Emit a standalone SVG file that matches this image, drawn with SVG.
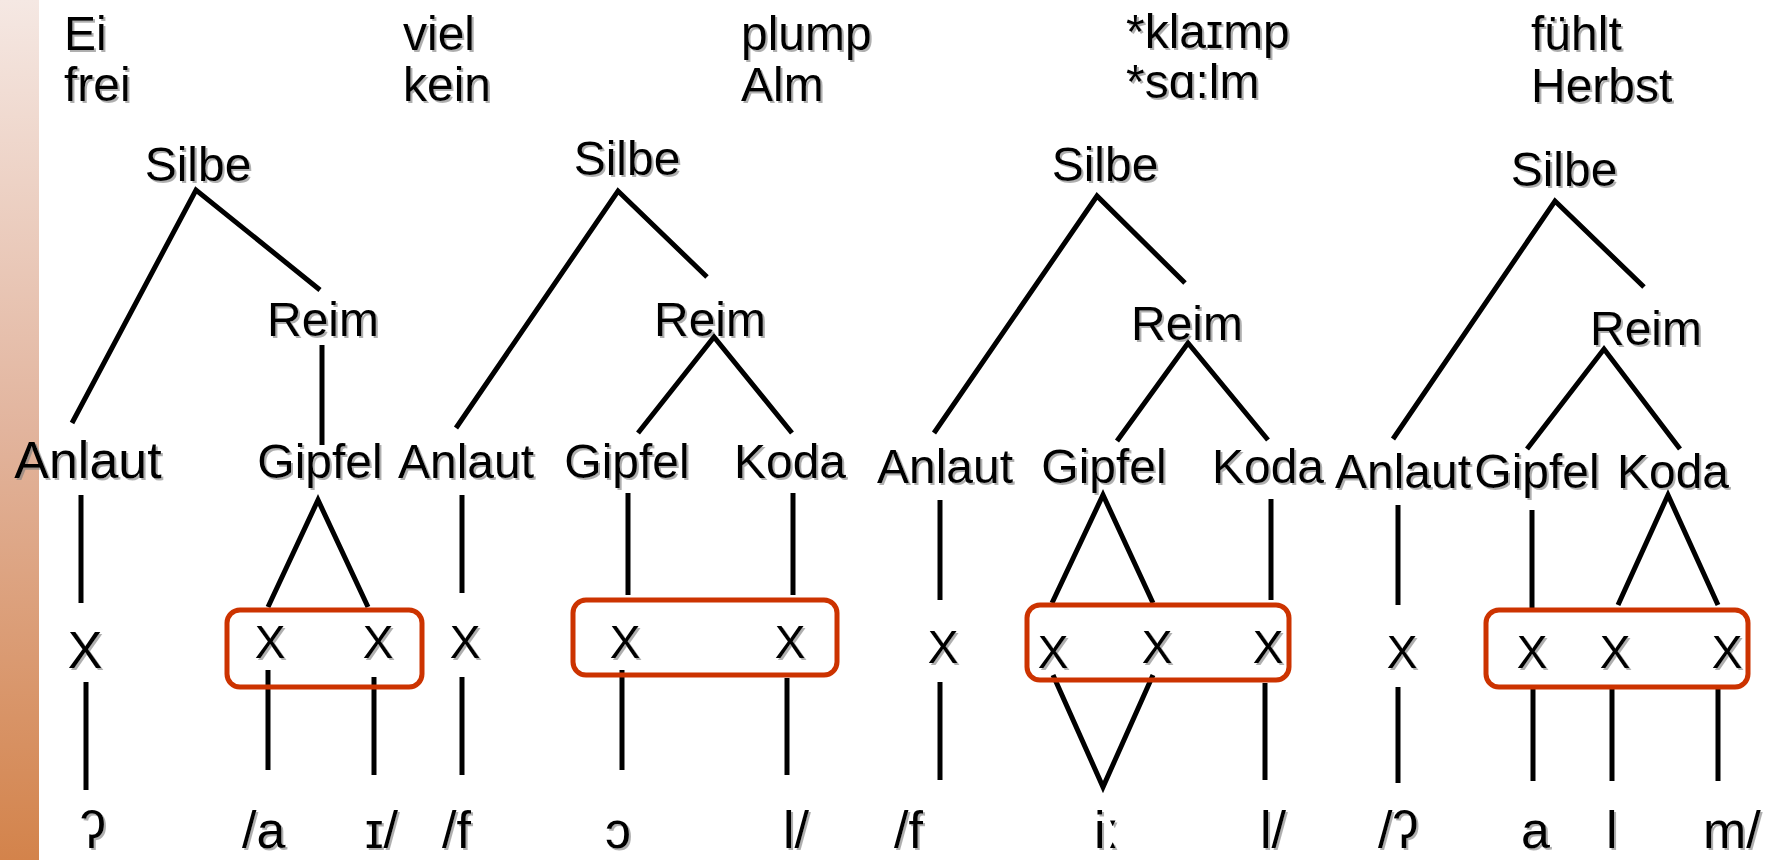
<svg xmlns="http://www.w3.org/2000/svg" width="1774" height="860" viewBox="0 0 1774 860">
  <defs>
    <linearGradient id="bar" x1="0" y1="0" x2="0" y2="1">
      <stop offset="0" stop-color="#f5e8e3"/>
      <stop offset="0.5" stop-color="#e2b49d"/>
      <stop offset="1" stop-color="#d3834b"/>
    </linearGradient>
    <filter id="sh" x="-10%" y="-10%" width="130%" height="140%">
      <feDropShadow dx="2" dy="2" stdDeviation="0.7" flood-color="#7a7a7a" flood-opacity="0.6"/>
    </filter>
  </defs>
  <style>
    text { font-family: "Liberation Sans", Arial, "DejaVu Sans", sans-serif; fill: #000; filter: url(#sh); }
    .w { font-size: 48px; }
    .n { font-size: 48px; text-anchor: middle; }
    .x { font-size: 46px; text-anchor: middle; }
    .b { font-size: 52px; }
    .ln { stroke: #000; stroke-width: 5; fill: none; stroke-linecap: butt; stroke-linejoin: miter; }
    .box { fill: none; stroke: #cc3300; stroke-width: 5; }
  </style>
  <rect x="0" y="0" width="39" height="860" fill="url(#bar)"/>

  <g id="words">
    <text class="w" x="64" y="50">Ei</text>
    <text class="w" x="64" y="101">frei</text>
    <text class="w" x="403" y="50">viel</text>
    <text class="w" x="403" y="101">kein</text>
    <text class="w" x="741" y="50">plump</text>
    <text class="w" x="741" y="101">Alm</text>
    <text class="w" x="1126" y="48">*klaɪmp</text>
    <text class="w" x="1126" y="98">*sɑ:lm</text>
    <text class="w" x="1531" y="50">fühlt</text>
    <text class="w" x="1531" y="102">Herbst</text>
  </g>

  <g id="connectors">
    <!-- tree 1 -->
    <polyline class="ln" points="72,423 196,190 320,290"/>
    <line class="ln" x1="322" y1="345" x2="322" y2="445"/>
    <line class="ln" x1="81" y1="495" x2="81" y2="603"/>
    <line class="ln" x1="86" y1="682" x2="86" y2="790"/>
    <polyline class="ln" points="268,607 318,500 368,607"/>
    <line class="ln" x1="268" y1="670" x2="268" y2="770"/>
    <line class="ln" x1="374" y1="677" x2="374" y2="775"/>
    <!-- tree 2 -->
    <polyline class="ln" points="456,428 618,191 707,277"/>
    <polyline class="ln" points="638,433 714,337 792,433"/>
    <line class="ln" x1="462" y1="495" x2="462" y2="593"/>
    <line class="ln" x1="462" y1="677" x2="462" y2="775"/>
    <line class="ln" x1="628" y1="493" x2="628" y2="595"/>
    <line class="ln" x1="793" y1="493" x2="793" y2="595"/>
    <line class="ln" x1="622" y1="670" x2="622" y2="770"/>
    <line class="ln" x1="787" y1="678" x2="787" y2="775"/>
    <!-- tree 3 -->
    <polyline class="ln" points="934,433 1097,196 1185,283"/>
    <polyline class="ln" points="1117,441 1188,343 1268,440"/>
    <line class="ln" x1="940" y1="500" x2="940" y2="600"/>
    <line class="ln" x1="940" y1="682" x2="940" y2="780"/>
    <polyline class="ln" points="1052,603 1103,495 1153,603"/>
    <polyline class="ln" points="1053,675 1103,787 1153,675"/>
    <line class="ln" x1="1271" y1="499" x2="1271" y2="600"/>
    <line class="ln" x1="1265" y1="683" x2="1265" y2="780"/>
    <!-- tree 4 -->
    <polyline class="ln" points="1393,439 1555,201 1644,287"/>
    <polyline class="ln" points="1527,449 1604,349 1680,449"/>
    <line class="ln" x1="1398" y1="505" x2="1398" y2="605"/>
    <line class="ln" x1="1398" y1="687" x2="1398" y2="783"/>
    <line class="ln" x1="1532" y1="510" x2="1532" y2="610"/>
    <polyline class="ln" points="1618,605 1668,495 1718,605"/>
    <line class="ln" x1="1533" y1="685" x2="1533" y2="781"/>
    <line class="ln" x1="1612" y1="685" x2="1612" y2="781"/>
    <line class="ln" x1="1718" y1="685" x2="1718" y2="781"/>
  </g>

  <g id="highlights">
    <rect class="box" x="227" y="610" width="195" height="77" rx="13"/>
    <rect class="box" x="573" y="600" width="264" height="75" rx="13"/>
    <rect class="box" x="1027" y="605" width="262" height="75" rx="13"/>
    <rect class="box" x="1486" y="610" width="262" height="77" rx="13"/>
  </g>

  <g id="tree1">
    <g id="t1-silbe"><text class="n" x="198" y="181">Silbe</text></g>
    <g id="t1-reim"><text class="n" x="323" y="336">Reim</text></g>
    <g id="t1-anlaut"><text class="n" x="88" y="478" style="font-size:52px">Anlaut</text></g>
    <g id="t1-gipfel"><text class="n" x="320" y="478">Gipfel</text></g>
    <g id="t1-x"><text class="x" x="85" y="668" style="font-size:52px">X</text><text class="x" x="270" y="658">X</text><text class="x" x="378" y="658">X</text></g>
    <g id="t1-seg"><text class="b" x="80" y="848">ʔ</text><text class="b" x="242" y="848">/a</text><text class="b" x="365" y="848">ɪ/</text></g>
  </g>

  <g id="tree2">
    <g id="t2-silbe"><text class="n" x="627" y="175">Silbe</text></g>
    <g id="t2-reim"><text class="n" x="710" y="336">Reim</text></g>
    <g id="t2-anlaut"><text class="n" x="466" y="478">Anlaut</text></g>
    <g id="t2-gipfel"><text class="n" x="627" y="478">Gipfel</text></g>
    <g id="t2-koda"><text class="n" x="790" y="478">Koda</text></g>
    <g id="t2-x"><text class="x" x="465" y="658">X</text><text class="x" x="625" y="658">X</text><text class="x" x="790" y="658">X</text></g>
    <g id="t2-seg"><text class="b" x="442" y="848">/f</text><text class="b" x="605" y="848">ɔ</text><text class="b" x="783" y="848">l/</text></g>
  </g>

  <g id="tree3">
    <g id="t3-silbe"><text class="n" x="1105" y="181">Silbe</text></g>
    <g id="t3-reim"><text class="n" x="1187" y="340">Reim</text></g>
    <g id="t3-anlaut"><text class="n" x="945" y="483">Anlaut</text></g>
    <g id="t3-gipfel"><text class="n" x="1104" y="483">Gipfel</text></g>
    <g id="t3-koda"><text class="n" x="1268" y="483">Koda</text></g>
    <g id="t3-x"><text class="x" x="943" y="663">X</text><text class="x" x="1053" y="668">X</text><text class="x" x="1157" y="663">X</text><text class="x" x="1268" y="663">X</text></g>
    <g id="t3-seg"><text class="b" x="894" y="848">/f</text><text class="b" x="1094" y="848">iː</text><text class="b" x="1260" y="848">l/</text></g>
  </g>

  <g id="tree4">
    <g id="t4-silbe"><text class="n" x="1564" y="186">Silbe</text></g>
    <g id="t4-reim"><text class="n" x="1646" y="345">Reim</text></g>
    <g id="t4-anlaut"><text class="n" x="1403" y="488">Anlaut</text></g>
    <g id="t4-gipfel"><text class="n" x="1537" y="488">Gipfel</text></g>
    <g id="t4-koda"><text class="n" x="1673" y="488">Koda</text></g>
    <g id="t4-x"><text class="x" x="1402" y="668">X</text><text class="x" x="1532" y="668">X</text><text class="x" x="1615" y="668">X</text><text class="x" x="1727" y="668">X</text></g>
    <g id="t4-seg"><text class="b" x="1378" y="848">/ʔ</text><text class="b" x="1521" y="848">a</text><text class="b" x="1606" y="848">l</text><text class="b" x="1703" y="848">m/</text></g>
  </g>
</svg>
